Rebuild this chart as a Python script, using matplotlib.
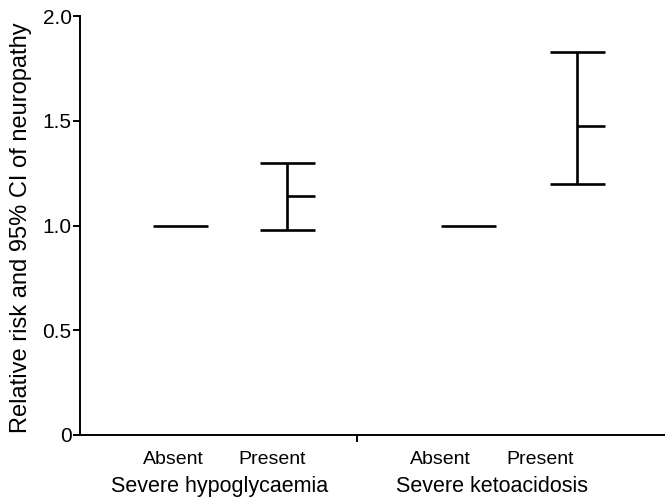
import matplotlib
matplotlib.use('Agg')
import matplotlib.pyplot as plt
from matplotlib.transforms import blended_transform_factory

plt.rcParams['font.family'] = ['Liberation Sans', 'DejaVu Sans']

# relative risk and 95% CI
grupos = ['Severe hypoglycaemia', 'Severe ketoacidosis']
niveis = ['Absent', 'Present', 'Absent', 'Present']
rr = [1.0, 1.14, 1.0, 1.475]
inferior = [None, 0.98, None, 1.20]
superior = [None, 1.30, None, 1.83]

pos = [1.0, 2.07, 3.88, 4.97]
pos_rotulos = [0.93, 1.92, 3.60, 4.60]
pos_grupos = [1.40, 4.12]
divisoria = 2.77
meia = 0.275

fig = plt.figure(figsize=(6.65, 4.97), dpi=100)
ax = fig.add_axes([80/665, 1 - 435/497, 1 - 80/665, (435 - 16)/497])

lw = 1.9
for i, x in enumerate(pos):
    if inferior[i] is None:
        ax.hlines(rr[i], x - meia, x + meia, color='black', lw=lw)
    else:
        ax.vlines(x, inferior[i], superior[i], color='black', lw=lw)
        ax.hlines([inferior[i], superior[i]], x - meia, x + meia, color='black', lw=lw)
        ax.hlines(rr[i], x, x + meia, color='black', lw=lw)

ax.set_xlim(0, 5.85)
ax.set_ylim(0, 2.0)
ax.set_yticks([0, 0.5, 1.0, 1.5, 2.0])
ax.set_yticklabels(['0', '0.5', '1.0', '1.5', '2.0'])
ax.set_xticks([divisoria])
ax.set_xticklabels([''])
ax.tick_params(axis='both', direction='out', length=5, width=1.4, labelsize=15, pad=1)

for s in ['top', 'right']:
    ax.spines[s].set_visible(False)
for s in ['left', 'bottom']:
    ax.spines[s].set_linewidth(1.4)

tr = blended_transform_factory(ax.transData, fig.transFigure)
for x, t in zip(pos_rotulos, niveis):
    ax.text(x, 1 - 464/497, t, transform=tr, ha='center', va='baseline', fontsize=14)
for x, t in zip(pos_grupos, grupos):
    ax.text(x, 1 - 492/497, t, transform=tr, ha='center', va='baseline', fontsize=15.5)

fig.text(21/665, 1 - 228/497, 'Relative risk and 95% CI of neuropathy',
         rotation=90, ha='center', va='center', fontsize=17)

fig.savefig('out.png', dpi=100)
